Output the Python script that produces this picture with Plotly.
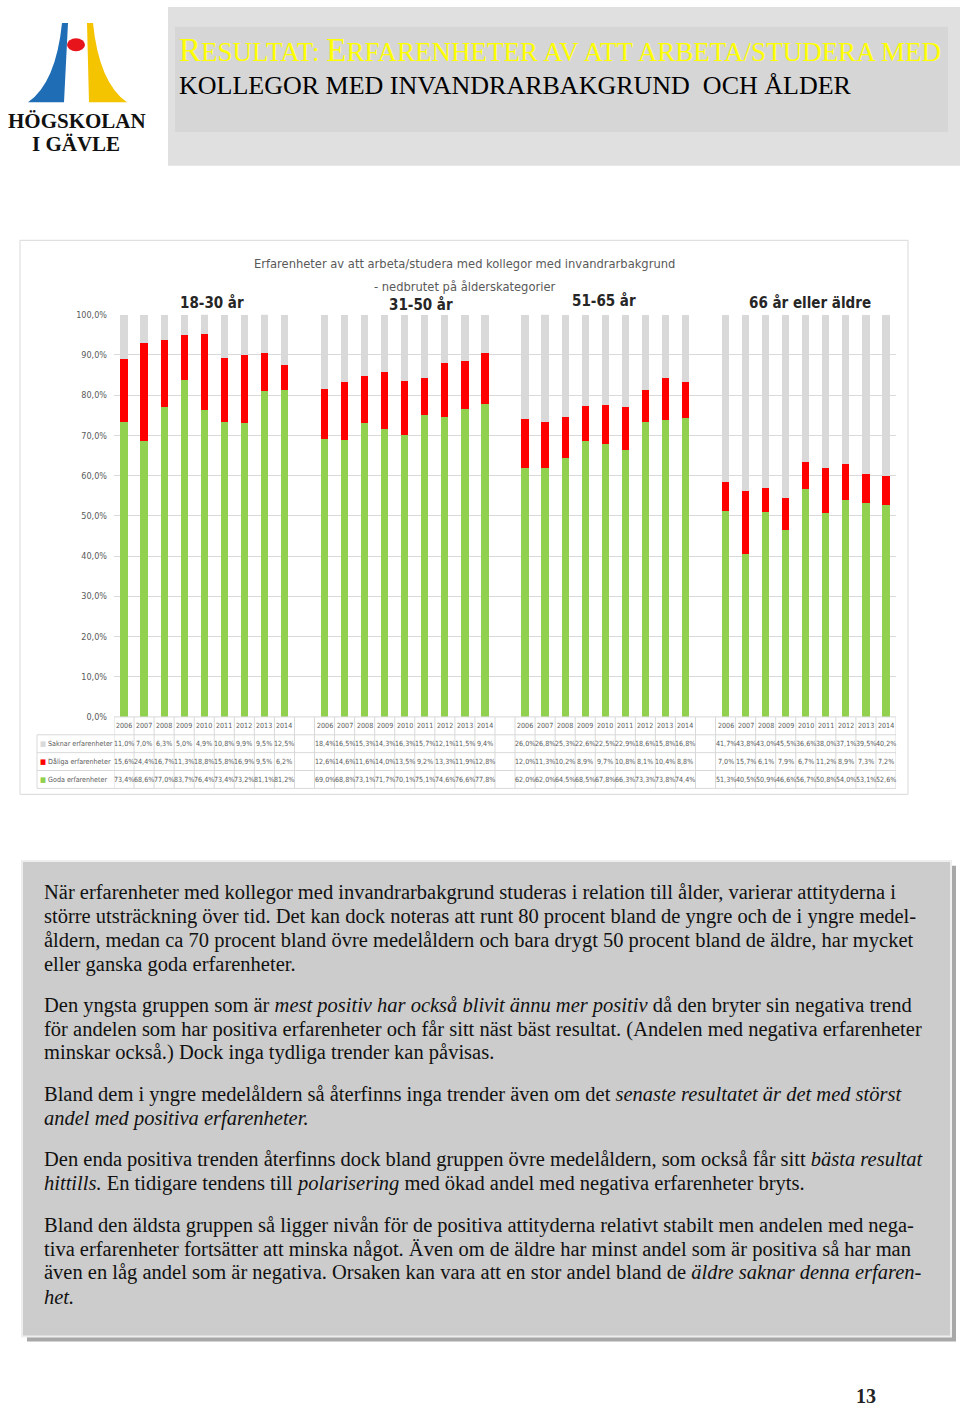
import plotly.graph_objects as go

W, H = 960, 1409
def px(x): return x / W
def py(y): return 1 - y / H

# ---------------- data ----------------
groups = ["18-30 år", "31-50 år", "51-65 år", "66 år eller äldre"]
years = ["2006", "2007", "2008", "2009", "2010", "2011", "2012", "2013", "2014"]

saknar_1830 = [11.0, 7.0, 6.3, 5.0, 4.9, 10.8, 9.9, 9.5, 12.5]
daliga_1830 = [15.6, 24.4, 16.7, 11.3, 18.8, 15.8, 16.9, 9.5, 6.2]
goda_1830 = [73.4, 68.6, 77.0, 83.7, 76.4, 73.4, 73.2, 81.1, 81.2]

saknar_3150 = [18.4, 16.5, 15.3, 14.3, 16.3, 15.7, 12.1, 11.5, 9.4]
daliga_3150 = [12.6, 14.6, 11.6, 14.0, 13.5, 9.2, 13.3, 11.9, 12.8]
goda_3150 = [69.0, 68.8, 73.1, 71.7, 70.1, 75.1, 74.6, 76.6, 77.8]

saknar_5165 = [26.0, 26.8, 25.3, 22.6, 22.5, 22.9, 18.6, 15.8, 16.8]
daliga_5165 = [12.0, 11.3, 10.2, 8.9, 9.7, 10.8, 8.1, 10.4, 8.8]
goda_5165 = [62.0, 62.0, 64.5, 68.5, 67.8, 66.3, 73.3, 73.8, 74.4]

saknar_66 = [41.7, 43.8, 43.0, 45.5, 36.6, 38.0, 37.1, 39.5, 40.2]
daliga_66 = [7.0, 15.7, 6.1, 7.9, 6.7, 11.2, 8.9, 7.3, 7.2]
goda_66 = [51.3, 40.5, 50.9, 46.6, 56.7, 50.8, 54.0, 53.1, 52.6]

series_names = ["Saknar erfarenheter", "Dåliga erfarenheter", "Goda erfarenheter"]
series_colors = ["#d9d9d9", "#ff0000", "#92d050"]

y_ticks = [0, 10, 20, 30, 40, 50, 60, 70, 80, 90, 100]
y_ticktext = ["0,0%", "10,0%", "20,0%", "30,0%", "40,0%", "50,0%", "60,0%",
              "70,0%", "80,0%", "90,0%", "100,0%"]

chart_title = "Erfarenheter av att arbeta/studera med kollegor med invandrarbakgrund"
chart_subtitle = "- nedbrutet på ålderskategorier"

saknar = [saknar_1830, saknar_3150, saknar_5165, saknar_66]
daliga = [daliga_1830, daliga_3150, daliga_5165, daliga_66]
goda = [goda_1830, goda_3150, goda_5165, goda_66]

# categories with an empty column between groups
cats, cat_year, s_vals, d_vals, g_vals = [], [], [], [], []
for gi, g in enumerate(groups):
    if gi > 0:
        cats.append(" " * gi)
        cat_year.append(None)
        s_vals.append(None); d_vals.append(None); g_vals.append(None)
    for yi, yr in enumerate(years):
        cats.append(f"{g} {yr}")
        cat_year.append(yr)
        s_vals.append(saknar[gi][yi]); d_vals.append(daliga[gi][yi]); g_vals.append(goda[gi][yi])

NARROW = "Liberation Sans Narrow, DejaVu Sans Condensed, Arial Narrow, sans-serif"
SERIF = "Liberation Serif, Times New Roman, serif"
GREY_TXT = "#595959"

fig = go.Figure()
for name, col, vals in [(series_names[2], series_colors[2], g_vals),
                        (series_names[1], series_colors[1], d_vals),
                        (series_names[0], series_colors[0], s_vals)]:
    fig.add_trace(go.Bar(x=cats, y=vals, name=name, marker_color=col,
                         marker_line_width=0, showlegend=False, hoverinfo="skip"))

shapes = []
ann = []

def A(**kw):
    d = dict(xref="paper", yref="paper", showarrow=False)
    d.update(kw)
    ann.append(d)

# ---------------- header ----------------
shapes.append(dict(type="rect", xref="paper", yref="paper", x0=px(168), x1=px(960),
                   y0=py(162), y1=py(2), fillcolor="#e0e0e0", line_width=0, layer="below"))
shapes.append(dict(type="rect", xref="paper", yref="paper", x0=px(175), x1=px(948),
                   y0=py(128), y1=py(22), fillcolor="#d6d6d6", line_width=0, layer="below"))

def path_px(cmds):
    out = []
    for c in cmds:
        if isinstance(c, str):
            out.append(c)
        else:
            out.append(f"{px(c[0]):.5f},{py(c[1]):.5f}")
    return " ".join(out)

blue = path_px(["M", (62, 18), "L", (68, 18), "L", (64, 98), "L", (28, 98), "Q", (56, 78), (62, 18), "Z"])
yellow = path_px(["M", (87, 18), "L", (93, 18), "Q", (99, 78), (127, 98), "L", (89, 98), "Z"])
shapes.append(dict(type="path", xref="paper", yref="paper", path=blue, fillcolor="#1f6db5", line_width=0))
shapes.append(dict(type="path", xref="paper", yref="paper", path=yellow, fillcolor="#f5c400", line_width=0))
shapes.append(dict(type="circle", xref="paper", yref="paper", x0=px(67), x1=px(85), y0=py(46.5), y1=py(33.5),
                   fillcolor="#e8141c", line_width=0))
A(x=px(77), y=py(117), text="<b>HÖGSKOLAN</b>", xanchor="center", yanchor="middle",
  font=dict(family=SERIF, size=21, color="#111111"))
A(x=px(76), y=py(140), text="<b>I GÄVLE</b>", xanchor="center", yanchor="middle",
  font=dict(family=SERIF, size=21, color="#111111"))

big, small = 33, 27
def sc(word):
    return f"<span style='font-size:{big}px'>{word[0]}</span><span style='font-size:{small}px'>{word[1:]}</span>"
yellow_title = (sc("RESULTAT:") + " " + sc("ERFARENHETER") + " AV ATT ARBETA/STUDERA MED")
A(x=px(177), y=py(45), text=yellow_title, xanchor="left", yanchor="middle",
  font=dict(family=SERIF, size=small, color="#ffff00"))
A(x=px(177), y=py(81), text="KOLLEGOR MED INVANDRARBAKGRUND  OCH ÅLDER",
  xanchor="left", yanchor="middle", font=dict(family=SERIF, size=26, color="#000000"))

# ---------------- chart container ----------------
shapes.append(dict(type="rect", xref="paper", yref="paper", x0=px(20), x1=px(908), y0=py(795), y1=py(237),
                   fillcolor="#ffffff", line=dict(color="#d9d9d9", width=1), layer="below"))

A(x=px(464), y=py(260), text=chart_title, xanchor="center", yanchor="middle",
  font=dict(family=NARROW, size=12.8, color=GREY_TXT))
A(x=px(464), y=py(284), text=chart_subtitle, xanchor="center", yanchor="middle",
  font=dict(family=NARROW, size=12.8, color=GREY_TXT))
for g, gx, gy in zip(groups, [212, 421, 604, 810], [300, 302, 298, 300]):
    A(x=px(gx), y=py(gy), text=f"<b>{g}</b>", xanchor="center", yanchor="middle",
      font=dict(family=NARROW, size=15, color="#262626"))

# ---------------- data table ----------------
row_y = [726, 744, 762, 780]
line_col = "#d9d9d9"
shapes.append(dict(type="line", xref="paper", yref="paper", x0=px(114), x1=px(896), y0=py(717), y1=py(717),
                   line=dict(color=line_col, width=1)))
for yy in [735, 753, 771, 789]:
    shapes.append(dict(type="line", xref="paper", yref="paper", x0=px(37), x1=px(896), y0=py(yy), y1=py(yy),
                       line=dict(color=line_col, width=1)))
shapes.append(dict(type="line", xref="paper", yref="paper", x0=px(37), x1=px(37), y0=py(735), y1=py(789),
                   line=dict(color=line_col, width=1)))
for i in range(len(cats) + 1):
    shapes.append(dict(type="line", xref="x", yref="paper", x0=i - 0.5, x1=i - 0.5, y0=py(789), y1=py(717),
                       line=dict(color=line_col, width=1)))

tfont = dict(family=NARROW, size=7.1, color=GREY_TXT)
for c, yr, sv, dv, gv in zip(cats, cat_year, s_vals, d_vals, g_vals):
    if yr is None:
        continue
    A(x=c, xref="x", y=py(row_y[0]), text=yr, xanchor="center", yanchor="middle", font=tfont)
    for v, ry in zip([sv, dv, gv], row_y[1:]):
        A(x=c, xref="x", y=py(ry), text=f"{v:.1f}%".replace(".", ","),
          xanchor="center", yanchor="middle", font=tfont)
for name, col, ry in zip(series_names, series_colors, row_y[1:]):
    A(x=px(38), y=py(ry), text=f"<span style='color:{col}'>■</span> {name}",
      xanchor="left", yanchor="middle", font=tfont)

# ---------------- text box ----------------
shapes.append(dict(type="rect", xref="paper", yref="paper", x0=px(27), x1=px(956), y0=py(1346), y1=py(867),
                   fillcolor="#a8a8a8", line_width=0, layer="below"))
shapes.append(dict(type="rect", xref="paper", yref="paper", x0=px(22), x1=px(951), y0=py(1341), y1=py(862),
                   fillcolor="#cccccc", line=dict(color="#eeeeee", width=2), layer="below"))

body_lines = [
    (894, "När erfarenheter med kollegor med invandrarbakgrund studeras i relation till ålder, varierar attityderna i"),
    (918, "större utsträckning över tid. Det kan dock noteras att runt 80 procent bland de yngre och de i yngre medel-"),
    (942, "åldern, medan ca 70 procent bland övre medelåldern och bara drygt 50 procent bland de äldre, har mycket"),
    (966, "eller ganska goda erfarenheter."),
    (1008, "Den yngsta gruppen som är <i>mest positiv har också blivit ännu mer positiv</i> då den bryter sin negativa trend"),
    (1032, "för andelen som har positiva erfarenheter och får sitt näst bäst resultat. (Andelen med negativa erfarenheter"),
    (1055, "minskar också.) Dock inga tydliga trender kan påvisas."),
    (1097, "Bland dem i yngre medelåldern så återfinns inga trender även om det <i>senaste resultatet är det med störst</i>"),
    (1121, "<i>andel med positiva erfarenheter.</i>"),
    (1163, "Den enda positiva trenden återfinns dock bland gruppen övre medelåldern, som också får sitt <i>bästa resultat</i>"),
    (1187, "<i>hittills.</i> En tidigare tendens till <i>polarisering</i> med ökad andel med negativa erfarenheter bryts."),
    (1229, "Bland den äldsta gruppen så ligger nivån för de positiva attityderna relativt stabilt men andelen med nega-"),
    (1253, "tiva erfarenheter fortsätter att minska något. Även om de äldre har minst andel som är positiva så har man"),
    (1277, "även en låg andel som är negativa. Orsaken kan vara att en stor andel bland de <i>äldre saknar denna erfaren-</i>"),
    (1301, "<i>het.</i>"),
]
for yy, t in body_lines:
    A(x=px(42), y=py(yy), text=t, xanchor="left", yanchor="middle",
      font=dict(family=SERIF, size=20.5, color="#111111"))

A(x=px(866), y=py(1401), text="<b>13</b>", xanchor="center", yanchor="middle",
  font=dict(family=SERIF, size=20, color="#222222"))

fig.update_layout(
    width=W, height=H, margin=dict(l=0, r=0, t=0, b=0),
    paper_bgcolor="#ffffff", plot_bgcolor="rgba(0,0,0,0)",
    barmode="stack", bargap=0.64, showlegend=False,
    shapes=shapes, annotations=ann,
    xaxis=dict(domain=[px(114), px(896)], type="category", categoryorder="array", categoryarray=cats,
               range=[-0.5, len(cats) - 0.5], showticklabels=False, showgrid=False, zeroline=False,
               showline=False, ticks=""),
    yaxis=dict(domain=[py(717), py(312)], range=[0, 100], tickvals=y_ticks, ticktext=y_ticktext,
               showgrid=True, gridcolor="#d9d9d9", gridwidth=1, zeroline=False, showline=False,
               tickfont=dict(family=NARROW, size=9, color=GREY_TXT), ticks="", ticklabelstandoff=6),
)

fig.write_html("out.html", config={"displayModeBar": False},
               post_script="document.body.style.margin='0';document.body.style.overflow='hidden';")
